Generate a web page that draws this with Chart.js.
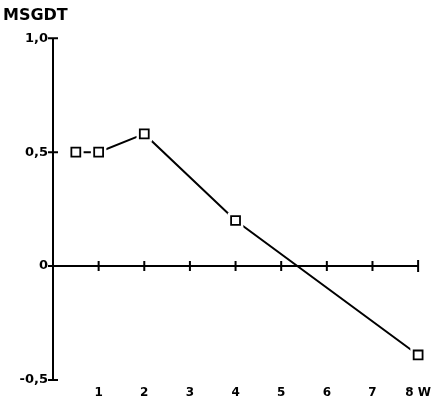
<!DOCTYPE html>
<html>
<head>
<meta charset="utf-8">
<script src="https://cdn.jsdelivr.net/npm/chart.js@4"></script>
<style>
  body { margin: 0; background: #fff; }
  #box { width: 437px; height: 410px; }
</style>
</head>
<body>
<div id="box"><canvas id="grafico"></canvas></div>
<script>
// valores
const semanas = [0.5, 1, 2, 4, 8];
const msgdt = [0.5, 0.5, 0.58, 0.2, -0.39];
const ticksX = [1, 2, 3, 4, 5, 6, 7, 8];
const ticksY = [-0.5, 0, 0.5, 1.0];

const pontos = semanas.map((x, i) => ({ x: x, y: msgdt[i] }));
const fonte = 'DejaVu Sans';

// eixos desenhados à mão: linha do zero e marcas cruzadas
const eixos = {
    id: 'eixos',
    afterDraw(chart) {
        const c = chart.ctx;
        const sx = chart.scales.x, sy = chart.scales.y;
        const x0 = sx.getPixelForValue(0), y0 = sy.getPixelForValue(0);
        c.save();
        c.strokeStyle = '#000';
        c.lineWidth = 2;
        c.beginPath();
        c.moveTo(x0, sy.getPixelForValue(1.0));
        c.lineTo(x0, sy.getPixelForValue(-0.5));
        c.moveTo(x0, y0);
        c.lineTo(sx.getPixelForValue(8), y0);
        ticksX.forEach(v => {
            const px = sx.getPixelForValue(v);
            const h = v === 8 ? 6 : 5;
            c.moveTo(px, y0 - h);
            c.lineTo(px, y0 + h);
        });
        ticksY.forEach(v => {
            const py = sy.getPixelForValue(v);
            c.moveTo(x0 - 5, py);
            c.lineTo(x0 + 5, py);
        });
        c.stroke();
        c.restore();
    }
};

const ctx = document.getElementById('grafico').getContext('2d');
const grafico = new Chart(ctx, {
    type: 'scatter',
    data: {
        datasets: [{
            data: pontos,
            showLine: true,
            borderColor: '#000',
            borderWidth: 2,
            pointRadius: 0,
            clip: false,
            order: 3
        }, {
            // fundo branco em volta dos quadrados
            data: pontos,
            pointStyle: 'rect',
            pointRadius: 11,
            pointBackgroundColor: '#fff',
            pointBorderWidth: 0,
            pointBorderColor: 'rgba(0,0,0,0)',
            clip: false,
            order: 2
        }, {
            data: pontos,
            pointStyle: 'rect',
            pointRadius: 6.3,
            pointBackgroundColor: '#fff',
            pointBorderColor: '#000',
            pointBorderWidth: 1.8,
            clip: false,
            order: 1
        }]
    },
    options: {
        responsive: true,
        maintainAspectRatio: false,
        animation: false,
        layout: { padding: { left: 3, right: 12, top: 0, bottom: 8 } },
        plugins: {
            legend: { display: false },
            tooltip: { enabled: false },
            title: {
                display: true,
                text: 'MSGDT',
                align: 'start',
                color: '#000',
                font: { family: fonte, size: 16, weight: 'bold' },
                padding: { top: 6, bottom: 13 }
            }
        },
        scales: {
            x: {
                type: 'linear',
                min: 0,
                max: 8,
                grid: { display: false, drawTicks: false, tickLength: 0 },
                border: { display: false },
                afterFit: s => { s.height = 22; },
                ticks: {
                    stepSize: 1,
                    color: '#000',
                    padding: 6,
                    font: { family: fonte, size: 12, weight: 'bold' },
                    callback: v => v === 0 ? '' : (v === 8 ? '8 W' : String(v))
                }
            },
            y: {
                min: -0.5,
                max: 1.0,
                grid: { display: false, drawTicks: false, tickLength: 0 },
                border: { display: false },
                afterFit: s => { s.width = 50; },
                ticks: {
                    stepSize: 0.5,
                    color: '#000',
                    padding: 5,
                    font: { family: fonte, size: 13, weight: 'bold' },
                    callback: v => v === 0 ? '0' : v.toFixed(1).replace('.', ',')
                }
            }
        }
    },
    plugins: [eixos]
});
</script>
</body>
</html>
